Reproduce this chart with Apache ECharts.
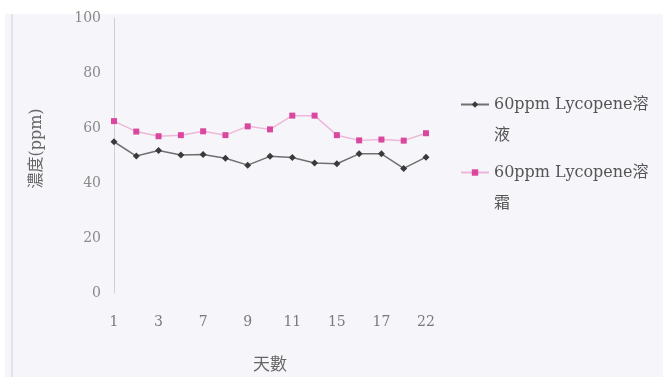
<!DOCTYPE html>
<html>
<head>
<meta charset="utf-8">
<script src="https://cdn.jsdelivr.net/npm/echarts@6/dist/echarts.min.js"></script>
<style>
  html, body { margin: 0; padding: 0; background: #fff; }
  #chart { width: 663px; height: 377px; }
</style>
</head>
<body>
<div id="chart"></div>
<script>
// Sampling days (every other one is labelled on the axis)
const days = ['1', '2', '3', '5', '7', '8', '9', '10', '11', '14', '15', '16', '17', '21', '22'];
// Concentration (ppm) measured over time
const solutionName = '60ppm Lycopene溶液';
const solution = [55, 49.8, 51.8, 50.2, 50.4, 49, 46.5, 49.7, 49.3, 47.3, 47, 50.6, 50.6, 45.3, 49.4];
const creamName = '60ppm Lycopene溶霜';
const cream = [62.5, 58.7, 57, 57.4, 58.8, 57.4, 60.6, 59.5, 64.5, 64.5, 57.4, 55.5, 55.8, 55.4, 58.1];
// Value axis ticks
const yMin = 0, yMax = 100, yStep = 20;

const serif = '"DejaVu Serif", "Noto Sans CJK TC", serif';
const chart = echarts.init(document.getElementById('chart'));
chart.setOption({
  backgroundColor: '#ffffff',
  animation: false,
  graphic: [
    { type: 'rect', z: -10, shape: { x: 5, y: 14, width: 658, height: 363 }, style: { fill: '#f6f6fa' } },
    { type: 'line', z: -9, shape: { x1: 12, y1: 14, x2: 12, y2: 377 }, style: { stroke: '#e2e2e8', lineWidth: 2 } }
  ],
  grid: { left: 114, right: 237, top: 18, bottom: 84 },
  legend: {
    orient: 'vertical',
    left: 455,
    top: 53,
    itemGap: -25,
    itemWidth: 28,
    itemHeight: 8,
    textStyle: {
      fontFamily: serif, fontSize: 16, color: '#555', lineHeight: 31,
      // a blank first row keeps the icon level with the first line of text
      rich: { blank: { lineHeight: 31 }, t: { fontFamily: serif, fontSize: 16, color: '#555', lineHeight: 31 } }
    },
    formatter: function (name) {
      return '{blank| }\n{t|' + name.slice(0, -1) + '}\n{t|' + name.slice(-1) + '}';
    },
    data: [solutionName, creamName]
  },
  xAxis: {
    type: 'category',
    data: days,
    boundaryGap: false,
    axisLine: { show: false },
    axisTick: { show: false },
    axisLabel: { interval: 1, margin: 22, fontFamily: serif, fontSize: 14, color: '#7a7a7a' },
    name: '天數',
    nameLocation: 'middle',
    nameGap: 62,
    nameTextStyle: { fontFamily: '"Noto Sans CJK TC", sans-serif', fontSize: 17, color: '#666' }
  },
  yAxis: {
    type: 'value',
    min: yMin,
    max: yMax,
    interval: yStep,
    axisLine: { show: true, lineStyle: { color: '#cfcfd6', width: 1 } },
    axisTick: { show: false },
    splitLine: { show: false },
    axisLabel: { margin: 13, fontFamily: serif, fontSize: 14, color: '#8a8a8a' },
    name: '濃度(ppm)',
    nameLocation: 'middle',
    nameRotate: 90,
    nameGap: 69,
    nameTextStyle: { fontFamily: serif, fontSize: 16, color: '#666', padding: [0, 0, 0, 14] }
  },
  series: [
    {
      name: solutionName,
      type: 'line',
      data: solution,
      symbol: 'diamond',
      symbolSize: 7,
      lineStyle: { color: '#707070', width: 1.5 },
      itemStyle: { color: '#3a3a3a' }
    },
    {
      name: creamName,
      type: 'line',
      data: cream,
      symbol: 'rect',
      symbolSize: 6,
      lineStyle: { color: '#eeb6d8', width: 1.5 },
      itemStyle: { color: '#d9479f' }
    }
  ]
});
</script>
</body>
</html>
